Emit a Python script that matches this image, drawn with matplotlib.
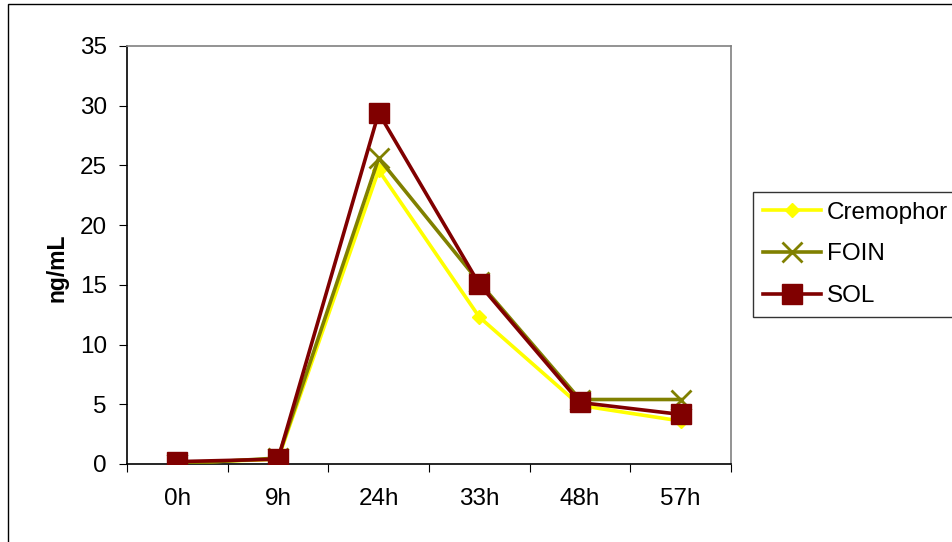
import matplotlib
matplotlib.use("Agg")
import matplotlib.pyplot as plt
from matplotlib.patches import Rectangle

categories = ["0h", "9h", "24h", "33h", "48h", "57h"]
cremophor = [0.1, 0.4, 24.6, 12.3, 4.9, 3.6]
foin = [0.0, 0.5, 25.6, 15.2, 5.4, 5.4]
sol = [0.2, 0.4, 29.4, 15.05, 5.15, 4.15]
yticks = [0, 5, 10, 15, 20, 25, 30, 35]

plt.rcParams['font.family'] = ['Liberation Sans', 'DejaVu Sans']

W, H = 952, 542
FS = 17.5
fig = plt.figure(figsize=(W / 100, H / 100), dpi=100)
ax = fig.add_axes([127 / W, 1 - 464 / H, (731 - 127) / W, (464 - 46) / H])

x = [i + 0.5 for i in range(len(categories))]
ax.plot(x, cremophor, color='#FFFF00', lw=2.6, marker='D', ms=7, mec='#FFFF00', mfc='#FFFF00', label='Cremophor', zorder=3)
ax.plot(x, foin, color='#808000', lw=2.6, marker='x', ms=15, mew=2.0, mec='#808000', label='FOIN', zorder=4)
ax.plot(x, sol, color='#800000', lw=2.6, marker='s', ms=14, mec='#800000', mfc='#800000', label='SOL', zorder=5)

ax.set_xlim(0, 6)
ax.set_ylim(0, 35)
ax.set_yticks(yticks)
ax.set_yticklabels([str(v) for v in yticks], fontsize=FS)
ax.set_xticks(range(7))
ax.set_xticklabels([])
ax.set_xticks(x, minor=True)
ax.set_xticklabels(categories, minor=True, fontsize=FS)
ax.tick_params(axis='x', which='minor', length=0, pad=17)
ax.tick_params(axis='x', which='major', length=5.8, direction='out', color='black')
ax.tick_params(axis='y', length=5.8, direction='out', pad=8.6)

for s in ['left', 'bottom']:
    ax.spines[s].set_color('black')
    ax.spines[s].set_linewidth(1.2)
for s in ['top', 'right']:
    ax.spines[s].set_color('#808080')
    ax.spines[s].set_linewidth(1.2)

fig.text(57 / W, 1 - 268 / H, 'ng/mL', rotation=90, fontsize=16.5, fontweight='bold',
         ha='center', va='center')

leg = fig.legend(loc='upper left', bbox_to_anchor=(753 / W, 1 - 192 / H),
                 bbox_transform=fig.transFigure, fontsize=FS, frameon=True,
                 fancybox=False, edgecolor='black', borderpad=0.4,
                 handlelength=2.4, handletextpad=0.25, labelspacing=0.81,
                 borderaxespad=0)
leg.get_frame().set_linewidth(1.0)

fig.patches.append(Rectangle((8 / W, -0.1), 1.2, 1 - 4 / H + 0.1,
                             transform=fig.transFigure, fill=False,
                             edgecolor='black', lw=1.0, clip_on=False))

fig.savefig('out.png', dpi=100)
